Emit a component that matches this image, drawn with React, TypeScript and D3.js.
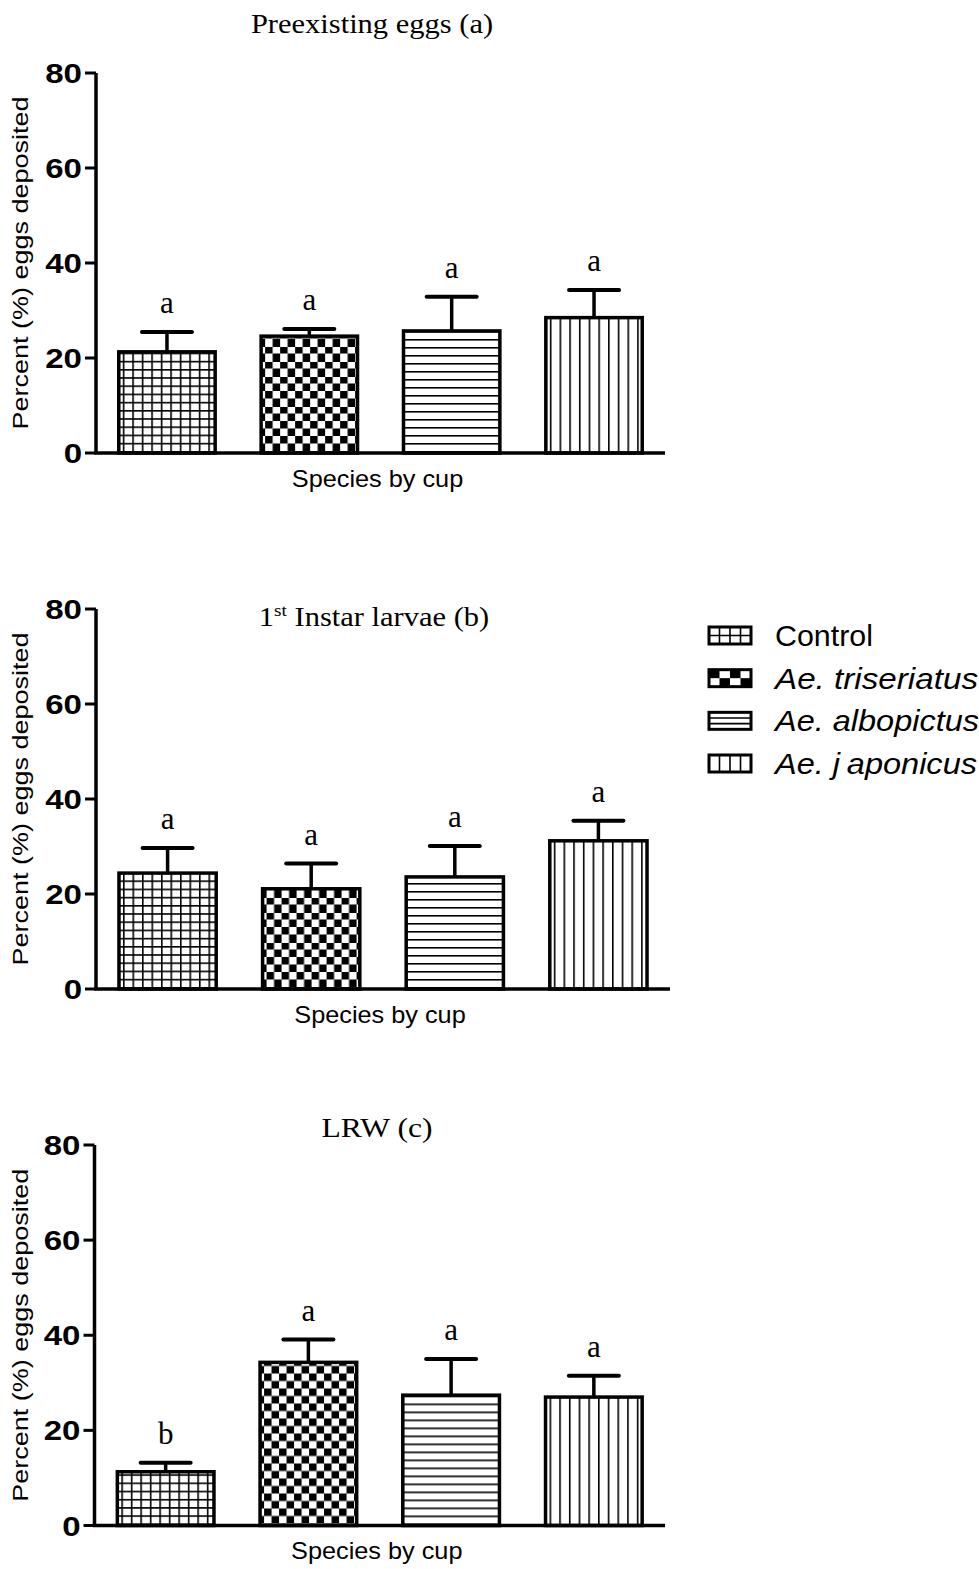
import React from 'react';
import * as d3 from 'd3';

// Treatment groups (one bar per group in every panel)
const categories = ['Control', 'Ae. triseriatus', 'Ae. albopictus', 'Ae. japonicus'];
const yTickValues = [0, 20, 40, 60, 80];

// Preexisting eggs (a)
const preexistingMeans = [21.3, 24.6, 25.7, 28.5];
const preexistingSem = [4.2, 1.5, 7.2, 5.8];
const preexistingLetters = ['a', 'a', 'a', 'a'];

// 1st instar larvae (b)
const larvaeMeans = [24.4, 21.1, 23.6, 31.2];
const larvaeSem = [5.3, 5.3, 6.5, 4.2];
const larvaeLetters = ['a', 'a', 'a', 'a'];

// LRW (c)
const lrwMeans = [11.3, 34.3, 27.4, 27.0];
const lrwSem = [1.9, 4.8, 7.6, 4.5];
const lrwLetters = ['b', 'a', 'a', 'a'];

const fills = ['grid', 'checker', 'hlines', 'vlines'];

const SANS = "'Liberation Sans', Arial, sans-serif";
const SERIF = "'Liberation Serif', 'Times New Roman', serif";

type PanelSpec = {
  key: string;
  means: number[];
  sem: number[];
  letters: string[];
  left: number;
  right: number;
  top: number;
  bottom: number;
  titleX: number;
  titleY: number;
  title: React.ReactNode;
  titleFont: number;
};

const panels: PanelSpec[] = [
  {
    key: 'a', means: preexistingMeans, sem: preexistingSem, letters: preexistingLetters,
    left: 96, right: 665, top: 73, bottom: 453,
    titleX: 372, titleY: 33, titleFont: 27,
    title: 'Preexisting eggs (a)',
  },
  {
    key: 'b', means: larvaeMeans, sem: larvaeSem, letters: larvaeLetters,
    left: 96, right: 670, top: 609, bottom: 989,
    titleX: 374, titleY: 626, titleFont: 27,
    title: (
      <>
        1<tspan fontSize={17} dy={-10}>st</tspan>
        <tspan dy={10}> Instar larvae (b)</tspan>
      </>
    ),
  },
  {
    key: 'c', means: lrwMeans, sem: lrwSem, letters: lrwLetters,
    left: 94.5, right: 665, top: 1145, bottom: 1525.5,
    titleX: 377, titleY: 1137, titleFont: 28,
    title: 'LRW (c)',
  },
];

function FillPattern({ id, kind, x, y }: { id: string; kind: string; x: number; y: number }) {
  const lw = 1.6;
  if (kind === 'grid') {
    const w = 9.5, h = 8.2;
    return (
      <pattern id={id} patternUnits="userSpaceOnUse" x={x} y={y} width={w} height={h}>
        <rect width={w} height={h} fill="#fff" />
        <line x1={0.8} x2={0.8} y1={0} y2={h} stroke="#000" strokeWidth={lw} />
        <line x1={0} x2={w} y1={0.8} y2={0.8} stroke="#000" strokeWidth={lw} />
      </pattern>
    );
  }
  if (kind === 'checker') {
    const s = 7.5;
    return (
      <pattern id={id} patternUnits="userSpaceOnUse" x={x} y={y} width={2 * s} height={2 * s}>
        <rect width={2 * s} height={2 * s} fill="#fff" />
        <rect x={0} y={0} width={s} height={s} fill="#000" />
        <rect x={s} y={s} width={s} height={s} fill="#000" />
      </pattern>
    );
  }
  if (kind === 'hlines') {
    const h = 8;
    return (
      <pattern id={id} patternUnits="userSpaceOnUse" x={x} y={y} width={10} height={h}>
        <rect width={10} height={h} fill="#fff" />
        <line x1={0} x2={10} y1={0.8} y2={0.8} stroke="#000" strokeWidth={lw} />
      </pattern>
    );
  }
  const w = 9.7;
  return (
    <pattern id={id} patternUnits="userSpaceOnUse" x={x} y={y} width={w} height={10}>
      <rect width={w} height={10} fill="#fff" />
      <line x1={0.8} x2={0.8} y1={0} y2={10} stroke="#000" strokeWidth={lw} />
    </pattern>
  );
}

function Panel({ p }: { p: PanelSpec }) {
  const x = d3.scaleBand<string>()
    .domain(categories)
    .range([p.left, p.right])
    .paddingInner(0.323)
    .paddingOuter(0.16);
  const y = d3.scaleLinear().domain([0, 80]).range([p.bottom, p.top]);
  const bw = x.bandwidth();
  const midY = (p.top + p.bottom) / 2;

  return (
    <g>
      <defs>
        {categories.map((c, i) => (
          <FillPattern
            key={c}
            id={`fill-${p.key}-${i}`}
            kind={fills[i]}
            x={(x(c) as number) + 4}
            y={p.bottom - 2}
          />
        ))}
      </defs>

      {/* title */}
      <text
        transform={`translate(${p.titleX},${p.titleY}) scale(1.13,1)`}
        textAnchor="middle"
        fontFamily={SERIF}
        fontSize={p.titleFont}
        fill="#000"
      >
        {p.title}
      </text>

      {/* bars */}
      {categories.map((c, i) => {
        const x0 = x(c) as number;
        const yTop = y(p.means[i]);
        return (
          <rect
            key={c}
            x={x0}
            y={yTop}
            width={bw}
            height={y(0) - yTop}
            fill={`url(#fill-${p.key}-${i})`}
            stroke="#000"
            strokeWidth={3.5}
          />
        );
      })}

      {/* error bars and group letters */}
      {categories.map((c, i) => {
        const cx = (x(c) as number) + bw / 2;
        const yTop = y(p.means[i]);
        const yCap = y(p.means[i] + p.sem[i]);
        return (
          <g key={c}>
            <line x1={cx} x2={cx} y1={yTop} y2={yCap} stroke="#000" strokeWidth={3.5} />
            <line x1={cx - 25} x2={cx + 25} y1={yCap} y2={yCap} stroke="#000" strokeWidth={4} strokeLinecap="round" />
            <text
              x={cx}
              y={yCap - 19}
              textAnchor="middle"
              fontFamily={SERIF}
              fontSize={31}
              fill="#000"
            >
              {p.letters[i]}
            </text>
          </g>
        );
      })}

      {/* axes */}
      <line x1={p.left} x2={p.left} y1={y(80)} y2={y(0)} stroke="#000" strokeWidth={3.5} />
      <line x1={p.left - 1.75} x2={p.right} y1={y(0)} y2={y(0)} stroke="#000" strokeWidth={3.5} />
      {yTickValues.map((t) => (
        <g key={t}>
          <line x1={p.left - 11} x2={p.left} y1={y(t)} y2={y(t)} stroke="#000" strokeWidth={3} />
          <text
            transform={`translate(${p.left - 14},${y(t) + 10}) scale(1.18,1)`}
            textAnchor="end"
            fontFamily={SANS}
            fontWeight="bold"
            fontSize={28}
            fill="#000"
          >
            {t}
          </text>
        </g>
      ))}

      {/* axis titles */}
      <text
        transform={`translate(28,${midY}) rotate(-90)`}
        textAnchor="middle"
        fontFamily={SANS}
        fontSize={22}
        textLength={333}
        lengthAdjust="spacingAndGlyphs"
        fill="#000"
      >
        Percent (%) eggs deposited
      </text>
      <text
        transform={`translate(${(p.left + p.right) / 2 - 3},${p.bottom + 33.5}) scale(1.1,1)`}
        textAnchor="middle"
        fontFamily={SANS}
        fontSize={23}
        fill="#000"
      >
        Species by cup
      </text>
    </g>
  );
}

function LegendSwatch({ kind, x, y, w, h }: { kind: string; x: number; y: number; w: number; h: number }) {
  const parts: React.ReactNode[] = [];
  if (kind === 'grid') {
    for (let k = 1; k < 4; k++) {
      const lx = x + (w * k) / 4;
      parts.push(<line key={`v${k}`} x1={lx} x2={lx} y1={y} y2={y + h} stroke="#000" strokeWidth={1.6} />);
    }
    parts.push(<line key="h" x1={x} x2={x + w} y1={y + h / 2} y2={y + h / 2} stroke="#000" strokeWidth={1.6} />);
  } else if (kind === 'checker') {
    for (let r = 0; r < 2; r++) {
      for (let k = 0; k < 4; k++) {
        if ((r + k) % 2 === 0) {
          parts.push(
            <rect key={`${r}-${k}`} x={x + (w * k) / 4} y={y + (h * r) / 2} width={w / 4} height={h / 2} fill="#000" />
          );
        }
      }
    }
  } else if (kind === 'hlines') {
    for (let k = 1; k < 3; k++) {
      const ly = y + (h * k) / 3;
      parts.push(<line key={k} x1={x} x2={x + w} y1={ly} y2={ly} stroke="#000" strokeWidth={1.6} />);
    }
  } else {
    for (let k = 1; k < 4; k++) {
      const lx = x + (w * k) / 4;
      parts.push(<line key={k} x1={lx} x2={lx} y1={y} y2={y + h} stroke="#000" strokeWidth={1.6} />);
    }
  }
  return (
    <g>
      <rect x={x} y={y} width={w} height={h} fill="#fff" />
      {parts}
      <rect x={x} y={y} width={w} height={h} fill="none" stroke="#000" strokeWidth={3} />
    </g>
  );
}

function Legend() {
  const rowY = d3.scaleLinear().domain([0, 3]).range([646, 774]);
  const textLengths = [98, 203, 204, 202];
  return (
    <g>
      {categories.map((c, i) => {
        const base = rowY(i);
        return (
          <g key={c}>
            <LegendSwatch kind={fills[i]} x={709} y={base - 19} w={42} h={17} />
            <text
              x={775}
              y={base}
              fontFamily={SANS}
              fontSize={29}
              fontStyle={i === 0 ? 'normal' : 'italic'}
              textLength={textLengths[i]}
              lengthAdjust="spacingAndGlyphs"
              fill="#000"
            >
              {i === 3 ? (
                <>
                  Ae. j<tspan dx={6}>aponicus</tspan>
                </>
              ) : (
                c
              )}
            </text>
          </g>
        );
      })}
    </g>
  );
}

export default function App() {
  return (
    <svg
      width={979}
      height={1569}
      viewBox="0 0 979 1569"
      style={{ position: 'absolute', left: 0, top: 0, background: '#fff' }}
    >
      <rect width={979} height={1569} fill="#fff" />
      {panels.map((p) => (
        <Panel key={p.key} p={p} />
      ))}
      <Legend />
    </svg>
  );
}
